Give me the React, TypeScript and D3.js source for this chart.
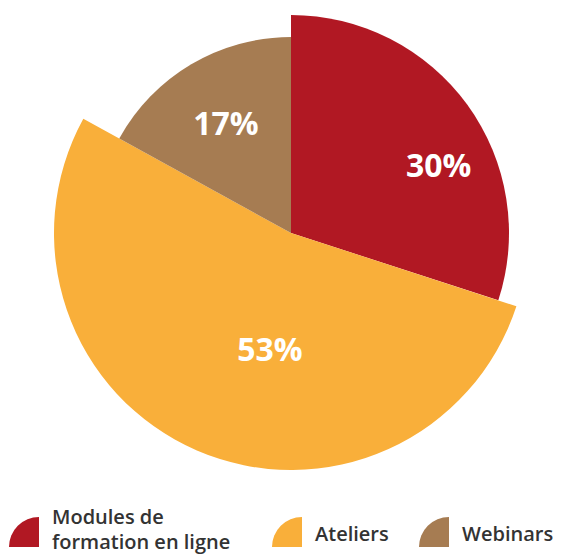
import React from 'react';
import * as d3 from 'd3';

const categories = ['Modules de formation en ligne', 'Ateliers', 'Webinars'];
const legendLines = [['Modules de', 'formation en ligne'], ['Ateliers'], ['Webinars']];
const values = [30, 53, 17];
const colors = ['#b11823', '#f9af3a', '#a67c52'];

// each slice has its own outer radius in the original
const radii = [218, 237, 196];
const labelRadii = [163, 117, 128];
const labelShift = [11, -13, 0]; // degrees

const width = 562;
const height = 555;
const cx = 291;
const cy = 233;

const App = () => {
    const pie = d3.pie<number>().value(d => d).sort(null);
    const arcs = pie(values);
    const toRad = Math.PI / 180;

    const legendX = [9, 272, 419];
    const iconSize = 30;

    return (
        <svg width={width} height={height} style={{ position: 'absolute', left: 0, top: 0 }}>
            <g transform={'translate(' + cx + ',' + cy + ')'}>
                {arcs.map((d, i) => {
                    const arc = d3.arc<d3.PieArcDatum<number>>().innerRadius(0).outerRadius(radii[i]);
                    return <path key={i} d={arc(d) || ''} fill={colors[i]} />;
                })}
                {arcs.map((d, i) => {
                    const a = (d.startAngle + d.endAngle) / 2 + labelShift[i] * toRad;
                    const x = Math.sin(a) * labelRadii[i];
                    const y = -Math.cos(a) * labelRadii[i];
                    return (
                        <text key={i} x={x} y={y} textAnchor="middle" dominantBaseline="central"
                              fill="#fff" fontFamily="'Open Sans', sans-serif" fontWeight={700}
                              fontSize={32}>
                            {d3.format('.0f')(d.value) + '%'}
                        </text>
                    );
                })}
            </g>
            {categories.map((c, i) => {
                const iconPath = d3.path();
                const x0 = legendX[i];
                const y1 = 547;
                iconPath.moveTo(x0 + iconSize, y1);
                iconPath.lineTo(x0, y1);
                iconPath.arc(x0 + iconSize, y1, iconSize, Math.PI, 1.5 * Math.PI);
                iconPath.closePath();
                const lines = legendLines[i];
                const textX = x0 + iconSize + 13;
                return (
                    <g key={c}>
                        <path d={iconPath.toString()} fill={colors[i]} />
                        <text fill="#333" fontFamily="'Open Sans', sans-serif" fontWeight={600} fontSize={20}>
                            {lines.map((l, j) => (
                                <tspan key={j} x={textX} y={lines.length > 1 ? 524 + j * 25 : 541}>{l}</tspan>
                            ))}
                        </text>
                    </g>
                );
            })}
        </svg>
    );
};

export default App;
